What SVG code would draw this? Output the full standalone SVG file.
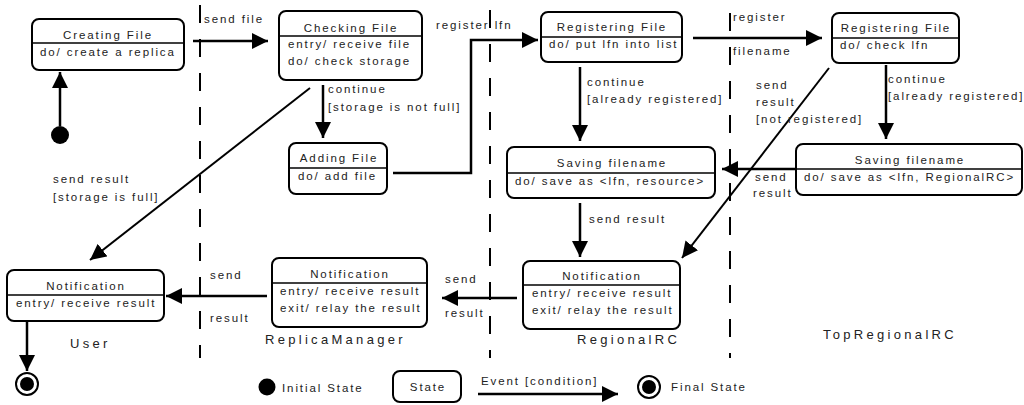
<svg xmlns="http://www.w3.org/2000/svg" width="1024" height="405" viewBox="0 0 1024 405">
<defs>
<marker id="ah" markerUnits="userSpaceOnUse" markerWidth="16" markerHeight="16" refX="16" refY="8" orient="auto"><path d="M0,0 L16,8 L0,16 z" fill="#000"/></marker>
</defs>
<style>
text{font-family:"Liberation Sans",Arial,Helvetica,sans-serif;font-size:11.5px;letter-spacing:1.9px;fill:#222}
.t{text-anchor:middle}
.big{font-size:13px;letter-spacing:3.3px}
.box{fill:#fff;stroke:#000;stroke-width:2}
.dv{stroke:#000;stroke-width:1.5}
.lane{stroke:#000;stroke-width:2;stroke-dasharray:18 16;fill:none}
.c{stroke:#000;stroke-width:2.5;fill:none;marker-end:url(#ah)}
.d{stroke:#000;stroke-width:2;fill:none;marker-end:url(#ah)}
</style>
<rect width="1024" height="405" fill="#fff"/>
<g id="lanes">
<line class="lane" x1="200" y1="5" x2="200" y2="358"/>
<line class="lane" x1="490" y1="10" x2="490" y2="358"/>
<line class="lane" x1="730" y1="13" x2="730" y2="358"/>
<text class="big" x="70" y="348">User</text>
<text class="big" x="265" y="344">ReplicaManager</text>
<text class="big" x="577" y="344">RegionalRC</text>
<text class="big" x="823" y="339">TopRegionalRC</text>
</g>
<g id="connectors">
<path class="c" d="M60,126 V72"/>
<path class="c" d="M193,41 H268"/>
<path class="c" d="M393,173 H471 V40 H538"/>
<path class="c" d="M693,38 H822"/>
<path class="c" d="M323,85 V138"/>
<path class="c" d="M580,67 V141"/>
<path class="c" d="M886,65 V139"/>
<path class="c" d="M796,169 H722"/>
<path class="c" d="M580,203 V257"/>
<path class="d" d="M829,68 L682,258"/>
<path class="d" d="M310,88 L90,260"/>
<path class="c" d="M517,298 H442"/>
<path class="c" d="M267,296 H166"/>
<path class="c" d="M27,321 V371"/>
<text x="204" y="23">send file</text>
<text x="436" y="29">register lfn</text>
<text x="733" y="21">register</text>
<text x="733" y="55">filename</text>
<text x="328" y="93">continue</text>
<text x="328" y="111">[storage is not full]</text>
<text x="587" y="86">continue</text>
<text x="587" y="103">[already registered]</text>
<text x="888" y="83">continue</text>
<text x="888" y="100">[already registered]</text>
<text x="756" y="89">send</text>
<text x="756" y="106">result</text>
<text x="756" y="123">[not registered]</text>
<text x="53" y="183">send result</text>
<text x="53" y="201">[storage is full]</text>
<text x="755" y="181">send</text>
<text x="753" y="197">result</text>
<text x="589" y="223">send result</text>
<text x="210" y="279">send</text>
<text x="210" y="322">result</text>
<text x="445" y="283">send</text>
<text x="445" y="317">result</text>
</g>
<g id="initial"><circle cx="60" cy="135" r="9" fill="#000"/></g>
<g id="final"><circle cx="27" cy="384" r="11" fill="#fff" stroke="#000" stroke-width="2"/><circle cx="27" cy="384" r="7" fill="#000"/></g>
<g id="creating-file">
<rect class="box" x="32" y="19" width="152" height="51" rx="7"/>
<line class="dv" x1="32" y1="43" x2="184" y2="43"/>
<text class="t" x="108" y="39">Creating File</text>
<text x="40" y="56">do/ create a replica</text>
</g>
<g id="checking-file">
<rect class="box" x="279" y="11" width="143" height="69" rx="7"/>
<line class="dv" x1="279" y1="36" x2="422" y2="36"/>
<text class="t" x="351" y="32">Checking File</text>
<text x="288" y="48">entry/ receive file</text>
<text x="288" y="65">do/ check storage</text>
</g>
<g id="adding-file">
<rect class="box" x="289" y="143" width="98" height="51" rx="7"/>
<line class="dv" x1="289" y1="168" x2="387" y2="168"/>
<text class="t" x="339" y="162">Adding File</text>
<text x="298" y="180">do/ add file</text>
</g>
<g id="registering-file-rrc">
<rect class="box" x="541" y="12" width="141" height="50" rx="7"/>
<line class="dv" x1="541" y1="37" x2="682" y2="37"/>
<text class="t" x="612" y="31">Registering File</text>
<text x="549" y="48">do/ put lfn into list</text>
</g>
<g id="registering-file-top">
<rect class="box" x="832" y="13" width="127" height="50" rx="7"/>
<line class="dv" x1="832" y1="38" x2="959" y2="38"/>
<text class="t" x="896" y="32">Registering File</text>
<text x="840" y="49">do/ check lfn</text>
</g>
<g id="saving-filename-top">
<rect class="box" x="796" y="144" width="226" height="51" rx="7"/>
<line class="dv" x1="796" y1="169" x2="1022" y2="169"/>
<text class="t" x="910" y="164">Saving filename</text>
<text x="804" y="181">do/ save as &lt;lfn, RegionalRC&gt;</text>
</g>
<g id="saving-filename-rrc">
<rect class="box" x="507" y="147" width="208" height="51" rx="7"/>
<line class="dv" x1="507" y1="173" x2="715" y2="173"/>
<text class="t" x="612" y="167">Saving filename</text>
<text x="515" y="185">do/ save as &lt;lfn, resource&gt;</text>
</g>
<g id="notification-user">
<rect class="box" x="7" y="270" width="157" height="51" rx="7"/>
<line class="dv" x1="7" y1="295" x2="164" y2="295"/>
<text class="t" x="86" y="290">Notification</text>
<text x="16" y="307">entry/ receive result</text>
</g>
<g id="notification-rm">
<rect class="box" x="272" y="258" width="155" height="69" rx="7"/>
<line class="dv" x1="272" y1="283" x2="427" y2="283"/>
<text class="t" x="350" y="278">Notification</text>
<text x="280" y="295">entry/ receive result</text>
<text x="280" y="312">exit/ relay the result</text>
</g>
<g id="notification-rrc">
<rect class="box" x="523" y="261" width="157" height="68" rx="7"/>
<line class="dv" x1="523" y1="285" x2="680" y2="285"/>
<text class="t" x="602" y="280">Notification</text>
<text x="532" y="297">entry/ receive result</text>
<text x="532" y="314">exit/ relay the result</text>
</g>
<g id="legend">
<circle cx="267" cy="387" r="8.5" fill="#000"/>
<text x="282" y="392">Initial State</text>
<rect class="box" x="393" y="371" width="68" height="31" rx="7"/>
<text class="t" x="428" y="391">State</text>
<text x="481" y="385">Event [condition]</text>
<path class="c" d="M478,394 H618"/>
<circle cx="649" cy="387" r="11" fill="#fff" stroke="#000" stroke-width="2"/>
<circle cx="649" cy="387" r="7" fill="#000"/>
<text x="671" y="391">Final State</text>
</g>
</svg>
